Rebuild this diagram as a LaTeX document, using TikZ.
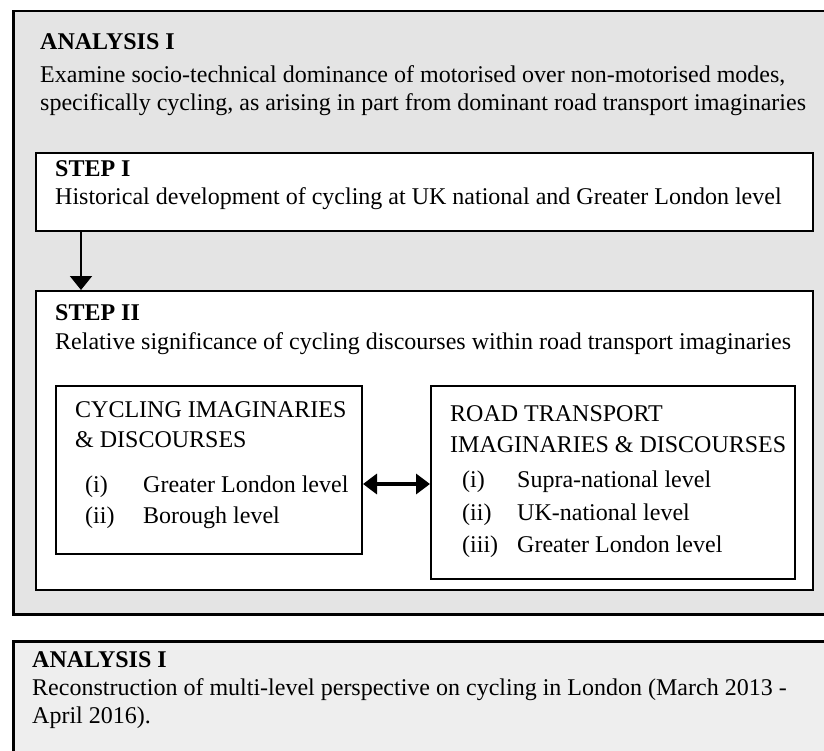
\documentclass[tikz,border=0pt]{standalone}
\usepackage{fontspec}
\setmainfont{Liberation Serif}
\usetikzlibrary{arrows.meta,positioning}

\tikzset{
  frame/.style={draw=black, line width=2pt, fill=white, anchor=north west, inner sep=0pt},
  head/.style={anchor=base west, inner sep=0pt, font=\fontsize{24}{28}\selectfont\bfseries},
  body/.style={anchor=base west, inner sep=0pt, font=\fontsize{24}{28}\selectfont},
  arr/.style={-{Triangle[length=14pt,width=22pt]}, line width=2pt},
  dblarr/.style={{Triangle[length=14pt,width=20pt]}-{Triangle[length=14pt,width=20pt]}, line width=3.5pt},
}

\begin{document}
\begin{tikzpicture}[x=1pt,y=-1pt]
    \useasboundingbox (0,0) rectangle (824,751);

    % Outer frames
    \node[frame, fill=gray!21, line width=2.5pt, minimum width=830pt, minimum height=603pt] (ana1) at (12,10) {};
    \node[frame, fill=gray!13, line width=2.5pt, minimum width=830pt, minimum height=130pt] (ana2) at (12,640) {};

    % Analysis I text
    \node[head] (ana1head) at (40,50) {ANALYSIS I};
    \node[body] (ana1a) at (40,83) {Examine socio-technical dominance of motorised over non-motorised modes,};
    \node[body] (ana1b) at (40,111) {specifically cycling, as arising in part from dominant road transport imaginaries};

    % Step I
    \node[frame, minimum width=777pt, minimum height=78pt] (step1) at (35,152) {};
    \node[head] (step1head) at (55,177) {STEP I};
    \node[body] (step1a) at (55,205) {Historical development of cycling at UK national and Greater London level};

    % Step II
    \node[frame, minimum width=777pt, minimum height=299pt] (step2) at (35,290) {};
    \node[head] (step2head) at (55,320) {STEP II};
    \node[body] (step2a) at (55,349) {Relative significance of cycling discourses within road transport imaginaries};

    \draw[arr] ([xshift=46pt]step1.south west) -- ([xshift=46pt]step2.north west);

    % Cycling box
    \node[frame, minimum width=306pt, minimum height=168pt] (cyc) at (55,385) {};
    \node[body] (cyca) at (75,417) {CYCLING IMAGINARIES};
    \node[body] (cycb) at (75,447) {\& DISCOURSES};
    \foreach \n/\y/\t in {i/492/Greater London level, ii/523/Borough level} {
        \node[body] (cycn\n) at (85,\y) {(\n)};
        \node[body] (cyct\n) at (143,\y) {\t};
    }

    % Road transport box
    \node[frame, minimum width=364pt, minimum height=193pt] (road) at (430,385) {};
    \node[body] (roada) at (450,421) {ROAD TRANSPORT};
    \node[body] (roadb) at (450,452) {IMAGINARIES \& DISCOURSES};
    \foreach \n/\y/\t in {i/487/Supra-national level, ii/520/UK-national level, iii/552/Greater London level} {
        \node[body] (roadn\n) at (462,\y) {(\n)};
        \node[body] (roadt\n) at (517,\y) {\t};
    }

    \coordinate (link) at (0,484);
    \draw[dblarr] (cyc.east |- link) -- (road.west |- link);

    % Analysis I (second)
    \node[head] (ana2head) at (32,667) {ANALYSIS I};
    \node[body] (ana2a) at (32,695) {Reconstruction of multi-level perspective on cycling in London (March 2013 -};
    \node[body] (ana2b) at (32,723) {April 2016).};
\end{tikzpicture}
\end{document}
